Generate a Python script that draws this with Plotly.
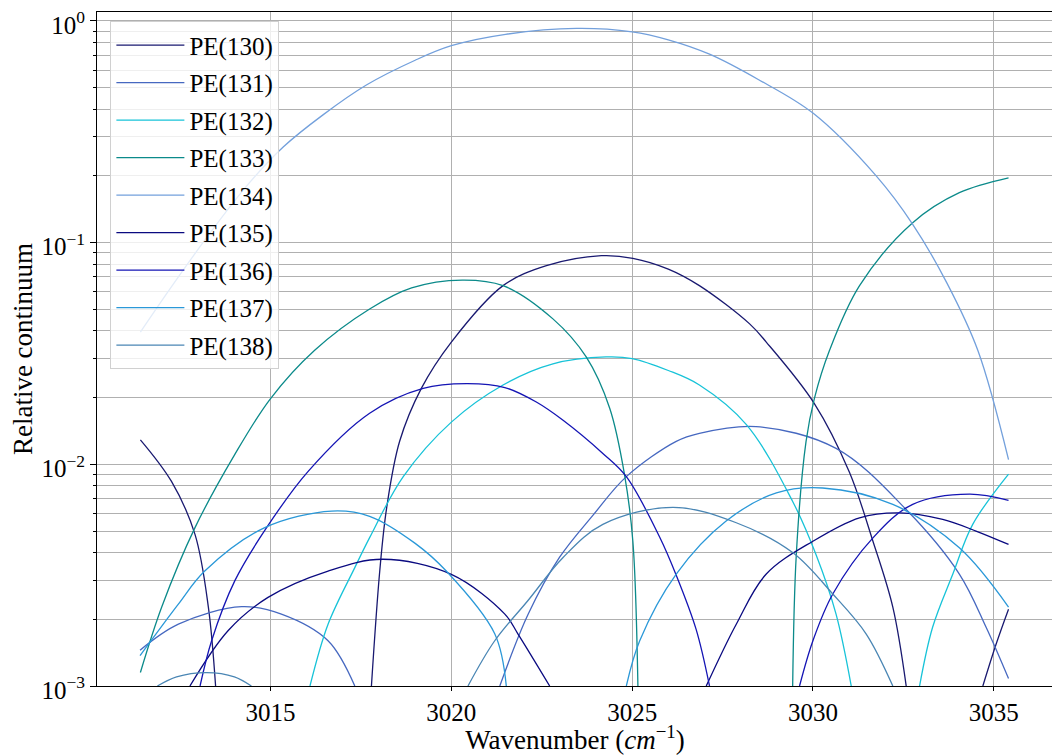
import plotly.graph_objects as go

# wavenumber / relative continuum, lobes split by None
x_pe130 = [3011.4, 3012.26, 3012.91, 3013.28, 3013.48, None,
           3017.79, 3018.02, 3018.21, 3018.57, 3019.17, 3020.0, 3021.43, 3022.63, 3024.15, 3025.02,
           3026.0, 3026.86, 3028.25, 3028.71, 3030.04, 3031.01, 3031.66, 3032.21, 3032.58, None,
           3034.7, 3035.07, 3035.41]
y_pe130 = [0.0129, 0.00837, 0.00483, 0.00227, 0.001, None,
           0.001, 0.0033, 0.00635, 0.0127, 0.022, 0.0356, 0.064, 0.0787, 0.0873, 0.085,
           0.076, 0.064, 0.043, 0.0356, 0.0188, 0.0092, 0.0045, 0.00227, 0.001, None,
           0.001, 0.00155, 0.00222]

x_pe131 = [3011.39, 3012.45, 3014.2, 3015.3, 3016.59, 3017.33, None,
           3021.34, 3022.12, 3022.99, 3023.92, 3024.84, 3026.22, 3026.86, 3028.43, 3030.64, 3032.58,
           3034.05, 3034.79, 3035.41]
y_pe131 = [0.00145, 0.0019, 0.00228, 0.00211, 0.0016, 0.001, None,
           0.001, 0.0021, 0.0038, 0.0059, 0.0088, 0.0127, 0.0138, 0.0148, 0.0118, 0.00625,
           0.0032, 0.00184, 0.00108]

x_pe132 = [3016.09, 3016.59, 3017.33, 3017.74, 3018.67, 3020.0, 3021.43, 3022.81, 3024.28, 3025.0,
           3026.0, 3026.86, 3028.16, 3029.44, 3030.09, 3030.64, 3031.06, None,
           3032.95, 3033.31, 3033.87, 3034.42, 3035.41]
y_pe132 = [0.001, 0.0019, 0.00342, 0.00467, 0.0088, 0.0155, 0.0228, 0.0284, 0.0305, 0.030,
           0.0265, 0.0228, 0.0151, 0.0068, 0.0039, 0.00211, 0.001, None,
           0.001, 0.00184, 0.0032, 0.00536, 0.00904]

x_pe133 = [3011.4, 3011.99, 3012.91, 3014.0, 3015.0, 3016.22, 3017.74, 3018.9, 3020.3, 3021.43,
           3022.81, 3023.73, 3024.38, 3024.79, 3025.02, 3025.16, None,
           3029.44, 3029.54, 3029.81, 3030.04, 3030.46, 3031.29, 3032.76, 3034.05, 3035.41]
y_pe133 = [0.00115, 0.00227, 0.00518, 0.011, 0.0198, 0.0327, 0.0502, 0.0625, 0.0678, 0.064,
           0.0453, 0.0305, 0.0179, 0.00897, 0.0045, 0.001, None,
           0.001, 0.0039, 0.0127, 0.0198, 0.0327, 0.064, 0.123, 0.168, 0.196]

x_pe134 = [3011.4, 3012.31, 3013.37, 3014.4, 3015.35, 3016.45, 3017.65, 3019.0, 3020.0, 3021.5,
           3023.46, 3025.0, 3026.0, 3027.14, 3028.5, 3030.0, 3031.75, 3032.76, 3033.7, 3034.56,
           3035.41]
y_pe134 = [0.0395, 0.065, 0.113, 0.185, 0.27, 0.377, 0.514, 0.665, 0.773, 0.87,
           0.925, 0.893, 0.822, 0.708, 0.543, 0.384, 0.200, 0.121, 0.066, 0.0327,
           0.0105]

x_pe135 = [3012.77, 3013.83, 3014.93, 3016.59, 3018.1, 3020.0, 3021.48, 3021.84, 3022.72, None,
           3027.05, 3027.88, 3028.71, 3030.0, 3031.29, 3032.39, 3033.59, 3034.51, 3035.41]
y_pe135 = [0.001, 0.00178, 0.00251, 0.0033, 0.00373, 0.00319, 0.00211, 0.00172, 0.001, None,
           0.001, 0.0019, 0.0032, 0.0045, 0.00574, 0.00604, 0.00564, 0.0050, 0.00435]

x_pe136 = [3013.05, 3013.37, 3014.01, 3014.89, 3016.04, 3017.74, 3019.22, 3020.42, 3021.48, 3022.35,
           3023.09, 3024.19, 3024.84, 3025.76, 3026.22, 3026.77, 3027.14, None,
           3029.63, 3030.0, 3030.55, 3031.66, 3032.76, 3034.33, 3035.41]
y_pe136 = [0.001, 0.0016, 0.00298, 0.00518, 0.0093, 0.017, 0.022, 0.0231, 0.0222, 0.0191,
           0.0158, 0.0112, 0.0088, 0.0047, 0.00316, 0.0018, 0.001, None,
           0.001, 0.0016, 0.0026, 0.00466, 0.0066, 0.00734, 0.00687]

x_pe137 = [3011.39, 3012.45, 3013.18, 3014.84, 3016.69, 3017.74, 3019.0, 3019.86, 3021.2, 3021.52, None,
           3024.84, 3025.21, 3026.22, 3027.6, 3028.99, 3030.27, 3032.21, 3034.05, 3035.41]
y_pe137 = [0.00137, 0.00234, 0.0033, 0.00518, 0.00615, 0.00583, 0.0044, 0.0033, 0.00172, 0.001, None,
           0.001, 0.0016, 0.0032, 0.00555, 0.00743, 0.00782, 0.00659, 0.0042, 0.00227]

x_pe138 = [3011.87, 3012.4, 3013.23, 3014.0, 3014.47, None,
           3020.46, 3021.2, 3022.12, 3023.09, 3024.19, 3026.13, 3027.88, 3029.44, 3030.55,
           3031.47, 3032.21]
y_pe138 = [0.001, 0.0011, 0.00115, 0.0011, 0.001, None,
           0.001, 0.0016, 0.00243, 0.0038, 0.00536, 0.0064, 0.00545, 0.0040, 0.0026,
           0.00172, 0.001]

names = ["PE(130)", "PE(131)", "PE(132)", "PE(133)", "PE(134)",
         "PE(135)", "PE(136)", "PE(137)", "PE(138)"]
xs = [x_pe130, x_pe131, x_pe132, x_pe133, x_pe134, x_pe135, x_pe136, x_pe137, x_pe138]
ys = [y_pe130, y_pe131, y_pe132, y_pe133, y_pe134, y_pe135, y_pe136, y_pe137, y_pe138]
colors = ["#191970", "#4668c0", "#17c3d8", "#0b8a8a", "#73a0dc",
          "#0a0a80", "#1414b4", "#2a98d8", "#4a86b4"]

y_tickvals = [0.001, 0.01, 0.1, 1]
y_ticktext = ["10<sup>\u22123</sup>", "10<sup>\u22122</sup>", "10<sup>\u22121</sup>", "10<sup>0</sup>"]
x_tickvals = [3015, 3020, 3025, 3030, 3035]

serif = "Liberation Serif"

fig = go.Figure()
for name, x, y, c in zip(names, xs, ys, colors):
    fig.add_trace(go.Scatter(
        x=x, y=y, name=name, mode="lines", legendgroup=name,
        line=dict(color=c, width=1.3, shape="spline", smoothing=1.0),
        connectgaps=False,
    ))

# the page body adds an 8px offset, so the figure is 8px smaller and margins shifted
grid = "#b0b0b0"
fig.update_layout(
    width=1052, height=747,
    margin=dict(l=89, r=7, t=4, b=69),
    paper_bgcolor="white", plot_bgcolor="white",
    font=dict(family=serif, size=24, color="black"),
    legend=dict(
        x=0.014, y=0.986, xanchor="left", yanchor="top",
        bgcolor="rgba(255,255,255,0.8)", bordercolor="#d0d0d0", borderwidth=1,
        tracegroupgap=2, itemwidth=68, font=dict(family=serif, size=25),
    ),
    xaxis=dict(
        range=[3010.2, 3036.64], tickvals=x_tickvals, automargin=False,
        showgrid=True, gridcolor=grid, gridwidth=0.8,
        showline=True, linecolor="black", linewidth=1, mirror=True,
        ticks="outside", ticklen=4, tickcolor="black", zeroline=False,
        title=dict(text="Wavenumber (<i>cm</i><sup>\u22121</sup>)", standoff=0,
                   font=dict(family=serif, size=27)),
        tickfont=dict(family=serif, size=25),
    ),
    yaxis=dict(
        type="log", range=[-3, 0.0404], automargin=False,
        tickvals=y_tickvals, ticktext=y_ticktext, ticklabeloverflow="allow",
        ticklabelshift=4,
        showgrid=True, gridcolor=grid, gridwidth=0.8,
        minor=dict(dtick="D1", showgrid=True, gridcolor=grid, gridwidth=0.8,
                   ticks="outside", ticklen=3, tickcolor="black"),
        showline=True, linecolor="black", linewidth=1, mirror=True,
        ticks="outside", ticklen=6, tickcolor="black", zeroline=False,
        title=dict(text="Relative continuum", standoff=0, font=dict(family=serif, size=27)),
        tickfont=dict(family=serif, size=25),
    ),
)

fig.write_html("out.html")
